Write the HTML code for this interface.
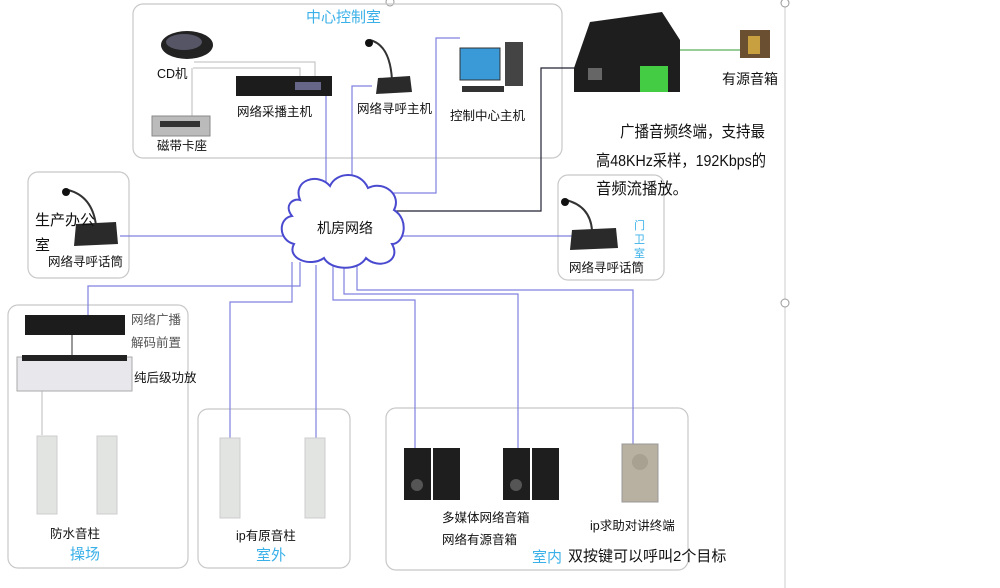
<!DOCTYPE html>
<html><head><meta charset="utf-8"><style>
html,body{margin:0;padding:0;background:#fff;}
svg{display:block;font-family:"Liberation Sans","Noto Sans CJK SC",sans-serif;}
</style></head><body>
<svg width="1000" height="588" viewBox="0 0 1000 588" xmlns="http://www.w3.org/2000/svg">
<rect width="1000" height="588" fill="#fff"/>
<line x1="785" y1="0" x2="785" y2="588" stroke="#ccc"/>
<circle cx="390" cy="2" r="4" fill="#fff" stroke="#999"/>
<circle cx="785" cy="3" r="4" fill="#fff" stroke="#999"/>
<circle cx="785" cy="303" r="4" fill="#fff" stroke="#999"/>

<g fill="none" stroke="#c8c8c8" stroke-width="1.2">
<rect x="133" y="4" width="429" height="154" rx="10"/>
<rect x="28" y="172" width="101" height="106" rx="10"/>
<rect x="558" y="175" width="106" height="105" rx="10"/>
<rect x="8" y="305" width="180" height="263" rx="10"/>
<rect x="198" y="409" width="152" height="159" rx="10"/>
<rect x="386" y="408" width="302" height="162" rx="10"/>
</g>

<g fill="none" stroke="#8080e0" stroke-width="1.2">
<polyline points="120,236 290,236"/>
<polyline points="398,236 575,236"/>
<polyline points="326,88 326,186"/>
<polyline points="372,86 352,86 352,184"/>
<polyline points="378,193 436,193 436,38 460,38"/>
<polyline points="300,262 300,286 88,286 88,316"/>
<polyline points="292,262 292,302 230,302 230,440"/>
<polyline points="316,265 316,440"/>
<polyline points="333,265 333,300 415,300 415,450"/>
<polyline points="344,265 344,294 518,294 518,450"/>
<polyline points="357,262 357,290 633,290 633,444"/>
</g>
<polyline points="395,211 541,211 541,68 592,68" fill="none" stroke="#223" stroke-width="1.2"/>
<g stroke="#bbb" fill="none">
<polyline points="194,62 315,62 315,78"/>
<polyline points="193,68 300,68 300,78"/>
<line x1="192" y1="68" x2="192" y2="125"/>
<line x1="42" y1="390" x2="42" y2="435"/>
</g>
<line x1="72" y1="335" x2="72" y2="357" stroke="#333"/>
<line x1="680" y1="50" x2="740" y2="50" stroke="#9c9" stroke-width="2"/>

<path d="M300,200 C292,180 318,172 330,186 C336,172 360,170 368,188 C384,180 402,195 394,210 C410,220 404,244 392,244 C402,262 378,270 366,258 C358,272 330,270 324,258 C310,268 286,258 294,244 C278,240 278,218 292,216 C284,206 292,198 300,200 Z" fill="#fff" stroke="#4a4ad0" stroke-width="2"/>
<text x="345" y="233" font-size="14" text-anchor="middle" fill="#111">机房网络</text>

<ellipse cx="187" cy="45" rx="26" ry="14" fill="#222"/>
<ellipse cx="184" cy="42" rx="18" ry="8" fill="#556"/>
<rect x="152" y="116" width="58" height="20" fill="#bbb" stroke="#888"/>
<rect x="160" y="121" width="40" height="6" fill="#333"/>
<rect x="236" y="76" width="96" height="20" fill="#1c1c1c"/>
<rect x="295" y="82" width="26" height="8" fill="#668"/>
<path d="M370,40 Q390,45 392,80" stroke="#333" stroke-width="2" fill="none"/>
<circle cx="369" cy="43" r="4" fill="#111"/>
<path d="M378,78 L410,76 L412,92 L376,94 Z" fill="#2a2a2a"/>
<rect x="460" y="48" width="40" height="32" fill="#3a9ad8" stroke="#333"/>
<rect x="505" y="42" width="18" height="44" fill="#444"/>
<rect x="462" y="86" width="42" height="6" fill="#333"/>
<path d="M590,22 L662,12 L680,40 L680,92 L574,92 L574,68 Z" fill="#1e1e1e"/>
<rect x="640" y="66" width="28" height="26" fill="#4c4"/>
<rect x="588" y="68" width="14" height="12" fill="#666"/>
<rect x="740" y="30" width="30" height="28" fill="#6a5030"/>
<rect x="748" y="36" width="12" height="18" fill="#c8a040"/>

<path d="M68,190 Q92,196 96,225" stroke="#333" stroke-width="2" fill="none"/>
<circle cx="66" cy="192" r="4" fill="#111"/>
<path d="M76,224 L116,222 L118,244 L74,246 Z" fill="#2a2a2a"/>
<path d="M566,200 Q590,206 592,230" stroke="#333" stroke-width="2" fill="none"/>
<circle cx="565" cy="202" r="4" fill="#111"/>
<path d="M572,230 L616,228 L618,248 L570,250 Z" fill="#2a2a2a"/>

<rect x="25" y="315" width="100" height="20" fill="#1c1c1c"/>
<rect x="17" y="357" width="115" height="34" fill="#e8e8ec" stroke="#aaa"/>
<rect x="22" y="355" width="105" height="6" fill="#222"/>
<g fill="#e2e4e2" stroke="#ccc">
<rect x="37" y="436" width="20" height="78"/><rect x="97" y="436" width="20" height="78"/>
<rect x="220" y="438" width="20" height="80"/><rect x="305" y="438" width="20" height="80"/>
</g>
<g fill="#1e1e1e">
<rect x="404" y="448" width="27" height="52"/><rect x="433" y="448" width="27" height="52"/>
<rect x="503" y="448" width="27" height="52"/><rect x="532" y="448" width="27" height="52"/>
</g>
<circle cx="417" cy="485" r="6" fill="#555"/><circle cx="516" cy="485" r="6" fill="#555"/>
<rect x="622" y="444" width="36" height="58" fill="#b8b0a0" stroke="#999"/>
<circle cx="640" cy="462" r="8" fill="#a8a090"/>

<g font-size="12.5" fill="#111">
<text x="157" y="78">CD机</text>
<text x="157" y="150">磁带卡座</text>
<text x="237" y="116">网络采播主机</text>
<text x="357" y="113">网络寻呼主机</text>
<text x="450" y="120">控制中心主机</text>
<text x="722" y="84" font-size="14">有源音箱</text>
<text x="48" y="266">网络寻呼话筒</text>
<text x="569" y="272">网络寻呼话筒</text>
<text x="131" y="324" fill="#555">网络广播</text>
<text x="131" y="347" fill="#555">解码前置</text>
<text x="134" y="382">纯后级功放</text>
<text x="50" y="538">防水音柱</text>
<text x="236" y="540">ip有原音柱</text>
<text x="442" y="522">多媒体网络音箱</text>
<text x="442" y="544">网络有源音箱</text>
<text x="590" y="530">ip求助对讲终端</text>
</g>
<text x="35" y="225" font-size="15" fill="#111">生产办公</text>
<text x="35" y="250" font-size="15" fill="#111">室</text>
<g font-size="16" fill="#111">
<text x="620" y="137" textLength="145" lengthAdjust="spacingAndGlyphs">广播音频终端，支持最</text>
<text x="596" y="166" textLength="170" lengthAdjust="spacingAndGlyphs">高48KHz采样，192Kbps的</text>
<text x="596" y="194" textLength="92" lengthAdjust="spacingAndGlyphs">音频流播放。</text>
</g>
<text x="568" y="561" font-size="15" fill="#111">双按键可以呼叫2个目标</text>
<g font-size="15" fill="#3ab0e8">
<text x="306" y="22">中心控制室</text>
<text x="70" y="559">操场</text>
<text x="256" y="560">室外</text>
<text x="532" y="562">室内</text>
<text x="634" y="229" font-size="11">门</text>
<text x="634" y="243" font-size="11">卫</text>
<text x="634" y="257" font-size="11">室</text>
</g>
</svg>
</body></html>
